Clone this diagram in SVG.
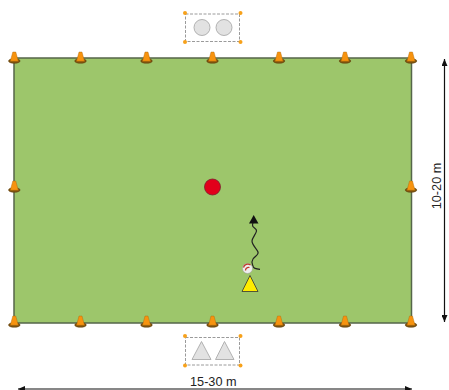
<svg xmlns="http://www.w3.org/2000/svg" width="449" height="390" viewBox="0 0 449 390">
<style>
.t{font-family:"Liberation Sans",Arial,sans-serif;font-size:12.7px;fill:#222}
.h{fill:#f7a11a;stroke:none}
.b{fill:none;stroke:#9a9a9a;stroke-width:1;stroke-dasharray:3 1.5}
.g{fill:#e2e2e2;stroke:#aaa;stroke-width:.9}
.d{stroke:#111;stroke-width:1.2;fill:none}
</style>
<defs>
<g id="cone">
<ellipse cx="0" cy="3" rx="5.800" ry="2.300" fill="#7f5410" stroke="#5c3c0a" stroke-width=".5"/>
<path d="M-1.500 -6 L1.500 -6 L4 3.200 L-4 3.200Z" fill="#f7930f" stroke="#a9660a" stroke-width=".4"/>
</g>
<marker id="a" viewBox="0 0 7 6" refX="7" refY="3" markerWidth="7" markerHeight="6" markerUnits="userSpaceOnUse" orient="auto-start-reverse"><path d="M0 0L7 3L0 6Z" fill="#111"/></marker>
</defs>
<g id="field"><rect x="14" y="58" width="397.500" height="265" fill="#9dc66b" stroke="#55664a" stroke-width="1.500"/></g>
<g id="cones">
<use href="#cone" x="14.300" y="58"/><use href="#cone" x="80.500" y="58"/><use href="#cone" x="146.500" y="58"/><use href="#cone" x="212.500" y="58"/><use href="#cone" x="279" y="58"/><use href="#cone" x="345" y="58"/><use href="#cone" x="411" y="58"/>
<use href="#cone" x="14.300" y="187"/><use href="#cone" x="411" y="187"/>
<use href="#cone" x="14.300" y="322"/><use href="#cone" x="80.500" y="322"/><use href="#cone" x="146.500" y="322"/><use href="#cone" x="212.500" y="322"/><use href="#cone" x="279" y="322"/><use href="#cone" x="345" y="322"/><use href="#cone" x="411" y="322"/>
</g>
<g id="top-group">
<rect class="b" x="185.500" y="14" width="54" height="27.500"/>
<circle class="g" cx="202" cy="27.500" r="8"/><circle class="g" cx="224" cy="27.500" r="8"/>
<circle class="h" cx="185" cy="13" r="2"/><circle class="h" cx="240.500" cy="13" r="2"/><circle class="h" cx="185" cy="42" r="2"/><circle class="h" cx="240.500" cy="42" r="2"/>
</g>
<g id="bottom-group">
<rect class="b" x="185.500" y="337.500" width="54" height="27.500"/>
<path class="g" d="M201.500 341.500L211 359.500H192Z"/><path class="g" d="M224.500 341.500L234 359.500H215.500Z"/>
<circle class="h" cx="185" cy="336" r="2"/><circle class="h" cx="240.500" cy="336" r="2"/><circle class="h" cx="185" cy="365.500" r="2"/><circle class="h" cx="240.500" cy="365.500" r="2"/>
</g>
<g id="red-marker"><circle cx="212.500" cy="187" r="8" fill="#e2001a" stroke="#7a2230" stroke-width=".8"/></g>
<g id="connectors">
<path d="M260 269.300C256 269 253 268 253 266C252 263 251 262 253 259C255 256 259 255 258 252C257 249 252 245 252 241C252 238 256 234 256.500 231C257 228 252 228 252.500 225C252.800 223 253 222 253.500 221" fill="none" stroke="#222" stroke-width="1.200"/>
<path d="M253.700 215L258.500 223.500L249 223.500Z" fill="#111"/>
<line class="d" x1="444.500" y1="59" x2="444.500" y2="322" marker-start="url(#a)" marker-end="url(#a)"/>
<line class="d" x1="18" y1="389" x2="412" y2="389" marker-start="url(#a)" marker-end="url(#a)"/>
</g>
<g id="ball"><circle cx="247.500" cy="268.500" r="5" fill="#eee" stroke="#999" stroke-width=".5"/><path d="M243.500 267.500A4.500 4.500 0 0 1 250.500 265M245.500 270.500A3 3 0 0 1 249.500 267.500" fill="none" stroke="#c0392b" stroke-width="1.300"/></g>
<g id="player"><path d="M250 275.500L258 291.500H242Z" fill="#ffec00" stroke="#333" stroke-width=".8"/></g>
<text class="t" x="213.300" y="386" text-anchor="middle">15-30 m</text>
<text class="t" transform="translate(441 186) rotate(-90)" text-anchor="middle">10-20 m</text>
</svg>
